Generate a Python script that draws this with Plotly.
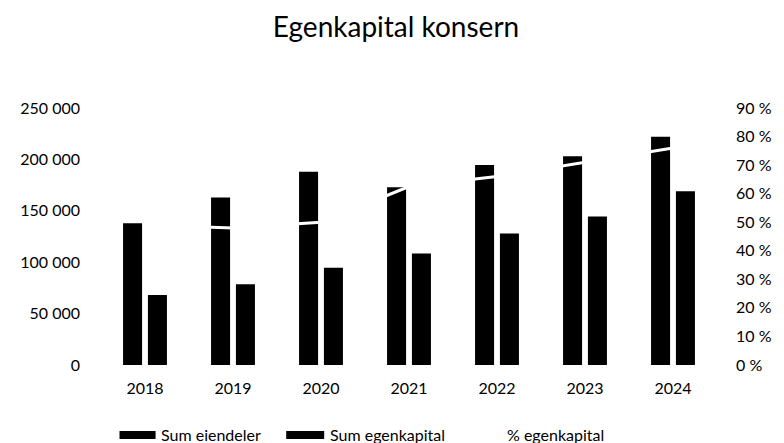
import plotly.graph_objects as go

years = ["2018", "2019", "2020", "2021", "2022", "2023", "2024"]
sum_eiendeler = [138000, 163000, 188000, 173000, 194500, 203000, 222000]
sum_egenkapital = [68000, 78500, 94500, 108500, 128000, 144500, 169000]
pct_egenkapital = [49, 48, 50, 62.5, 66, 71, 76]

left_tickvals = [0, 50000, 100000, 150000, 200000, 250000]
left_ticktext = ["0", "50 000", "100 000", "150 000", "200 000", "250 000"]
right_tickvals = [0, 10, 20, 30, 40, 50, 60, 70, 80, 90]
right_ticktext = ["0 %", "10 %", "20 %", "30 %", "40 %", "50 %", "60 %", "70 %", "80 %", "90 %"]

# page has an 8px body margin, so the figure is drawn offset by 8px
OFF = 8
W, H = 784 - OFF, 443 - OFF
L, R, T, B = 93 - OFF, 59, 108 - OFF, 78
FONT = "Lato"
fig = go.Figure()
fig.add_trace(go.Bar(x=years, y=sum_eiendeler, name="Sum eiendeler",
                     marker=dict(color="black", line=dict(width=0))))
fig.add_trace(go.Bar(x=years, y=sum_egenkapital, name="Sum egenkapital",
                     marker=dict(color="black", line=dict(width=0))))
fig.add_trace(go.Scatter(x=years, y=pct_egenkapital, name="% egenkapital",
                         yaxis="y2", mode="lines",
                         line=dict(color="white", width=3)))

pw = W - L - R
ph = H - T - B


def px_x(p):
    # p given in page pixels
    return (p - OFF - L) / pw


def px_y(p):
    return (H - B - (p - OFF)) / ph


shapes = []
annotations = []
legend_items = [(112, 149, 153, "Sum eiendeler", "black"),
                (283, 322, 326, "Sum egenkapital", "black"),
                (468, 503, 507, "% egenkapital", "white")]
for x0, x1, tx, label, col in legend_items:
    shapes.append(dict(type="rect", xref="paper", yref="paper",
                       x0=px_x(x0), x1=px_x(x1), y0=px_y(439), y1=px_y(431),
                       fillcolor=col, line=dict(width=0)))
    annotations.append(dict(text=label, xref="paper", yref="paper",
                            x=px_x(tx), y=px_y(434), xanchor="left", yanchor="middle",
                            showarrow=False, font=dict(size=16, color="black", family=FONT)))

fig.update_layout(
    width=W, height=H,
    margin=dict(l=L, r=R, t=T, b=B),
    paper_bgcolor="white", plot_bgcolor="white",
    font=dict(family=FONT, size=16, color="black"),
    title=dict(text="Egenkapital konsern", x=0.5, xanchor="center",
               y=1 - (27 - OFF) / H, yanchor="middle",
               font=dict(size=28, family=FONT, color="black")),
    barmode="group", bargap=0.435, bargroupgap=0.235,
    showlegend=False,
    shapes=shapes, annotations=annotations,
    xaxis=dict(showline=False, showgrid=False, zeroline=False, ticks="",
               ticklabelstandoff=12, tickfont=dict(size=16)),
    yaxis=dict(range=[0, 250000], tickvals=left_tickvals, ticktext=left_ticktext,
               showgrid=False, zeroline=False, showline=False, ticks="",
               ticklabelstandoff=20, tickfont=dict(size=16)),
    yaxis2=dict(range=[0, 90], overlaying="y", side="right",
                tickvals=right_tickvals, ticktext=right_ticktext,
                showgrid=False, zeroline=False, showline=False, ticks="",
                ticklabelstandoff=18, tickfont=dict(size=16)),
)

fig.write_html("out.html")
